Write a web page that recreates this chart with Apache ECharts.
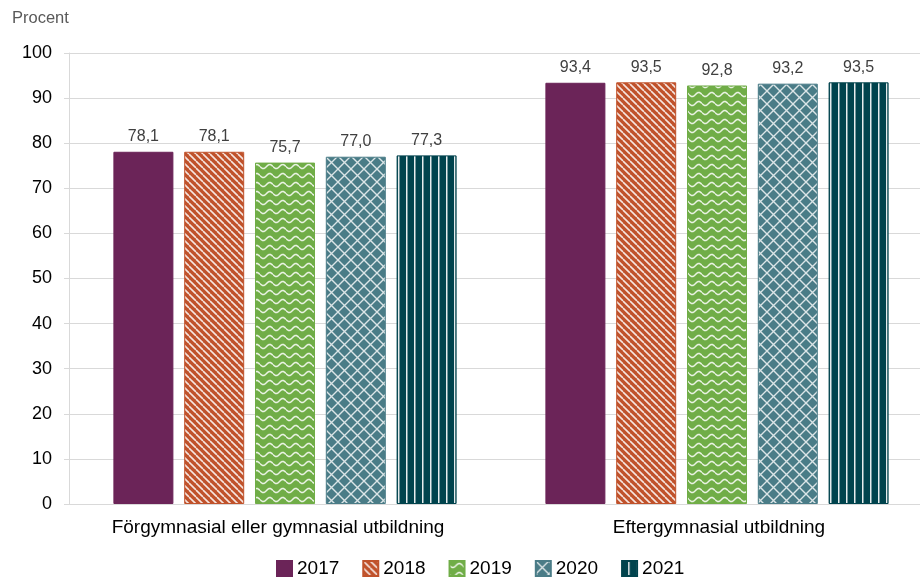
<!DOCTYPE html>
<html><head><meta charset="utf-8">
<script src="https://cdn.jsdelivr.net/npm/echarts@6/dist/echarts.min.js"></script>
<style>html,body{margin:0;padding:0;background:#fff}#c{width:920px;height:578px}</style>
</head><body><div id="c"></div>
<script>
const categories = ['Förgymnasial eller gymnasial utbildning', 'Eftergymnasial utbildning'];
const years = ['2017', '2018', '2019', '2020', '2021'];
const v2017 = [78.1, 93.4];
const v2018 = [78.1, 93.5];
const v2019 = [75.7, 92.8];
const v2020 = [77.0, 93.2];
const v2021 = [77.3, 93.5];

function mk(w, h, draw) {
  const c = document.createElement('canvas'); c.width = w; c.height = h;
  const ctx = c.getContext('2d'); draw(ctx, w, h); return c;
}
const pat2018 = mk(7, 7, (ctx, w, h) => {
  ctx.fillStyle = '#C0522B'; ctx.fillRect(0, 0, w, h);
  ctx.strokeStyle = 'rgba(255,255,255,0.85)'; ctx.lineWidth = 1.6;
  for (let k = -2; k <= 2; k++) { ctx.beginPath(); ctx.moveTo(k * w, 0); ctx.lineTo(k * w + w, h); ctx.stroke(); }
});
const pat2019 = mk(13, 9, (ctx, w, h) => {
  ctx.fillStyle = '#70AD47'; ctx.fillRect(0, 0, w, h);
  ctx.strokeStyle = 'rgba(255,255,255,0.85)'; ctx.lineWidth = 1.6;
  ctx.beginPath();
  for (let x = 0; x <= w; x += 0.5) { const y = 4.5 + 2 * Math.sin(x / w * Math.PI * 2); if (x === 0) ctx.moveTo(x, y); else ctx.lineTo(x, y); }
  ctx.stroke();
});
const pat2020 = mk(13, 13, (ctx, w, h) => {
  ctx.fillStyle = '#4A7C87'; ctx.fillRect(0, 0, w, h);
  ctx.strokeStyle = 'rgba(255,255,255,0.8)'; ctx.lineWidth = 1.4;
  ctx.beginPath(); ctx.moveTo(0, 0); ctx.lineTo(w, h); ctx.moveTo(w, 0); ctx.lineTo(0, h); ctx.stroke();
});
const pat2021 = mk(8, 8, (ctx, w, h) => {
  ctx.fillStyle = '#00434D'; ctx.fillRect(0, 0, w, h);
  ctx.fillStyle = 'rgba(255,255,255,0.9)'; ctx.fillRect(6, 0, 1.5, h);
});
const fills = ['#6B2458', {image: pat2018, repeat: 'repeat'}, {image: pat2019, repeat: 'repeat'}, {image: pat2020, repeat: 'repeat'}, {image: pat2021, repeat: 'repeat'}];
const borders = ['#6B2458', '#C0522B', '#70AD47', '#4A7C87', '#00434D'];
const vals = [v2017, v2018, v2019, v2020, v2021];

const chart = echarts.init(document.getElementById('c'), null, {renderer: 'canvas'});
chart.setOption({
  animation: false,
  textStyle: {fontFamily: 'Liberation Sans, Arial, sans-serif'},
  graphic: [{type: 'text', left: 12, top: 10, style: {text: 'Procent', fontSize: 16.5, fill: '#595959', fontFamily: 'Liberation Sans, Arial'}}],
  grid: {left: 69, top: 53, width: 864, height: 451, containLabel: false, outerBoundsMode: 'none'},
  legend: {
    top: 554, left: 271, itemWidth: 15, itemHeight: 15, itemGap: 23, icon: 'rect',
    textStyle: {fontSize: 19, color: '#000'},
    data: years
  },
  xAxis: {
    type: 'category',
    data: [{value: categories[0], textStyle: {padding: [0, 14, 0, 0]}}, {value: categories[1], textStyle: {padding: [0, 0, 0, 4]}}],
    axisLine: {lineStyle: {color: '#d9d9d9'}}, axisTick: {show: false},
    axisLabel: {fontSize: 19, color: '#000', margin: 14, interval: 0, hideOverlap: false}
  },
  yAxis: {
    type: 'value', min: 0, max: 100, interval: 10,
    axisLine: {show: true, lineStyle: {color: '#d9d9d9'}},
    axisTick: {show: true, length: 5, lineStyle: {color: '#d9d9d9'}},
    splitLine: {lineStyle: {color: '#d9d9d9'}},
    axisLabel: {fontSize: 18, color: '#000', margin: 17}
  },
  series: years.map((y, i) => ({
    name: y, type: 'bar', data: vals[i], barWidth: 60, barGap: '18%',
    itemStyle: {color: fills[i], borderColor: borders[i], borderWidth: 1},
    label: {show: true, position: 'top', distance: 7, fontSize: 16, color: '#404040',
      formatter: p => p.value.toFixed(1).replace('.', ',')}
  }))
});
</script></body></html>
